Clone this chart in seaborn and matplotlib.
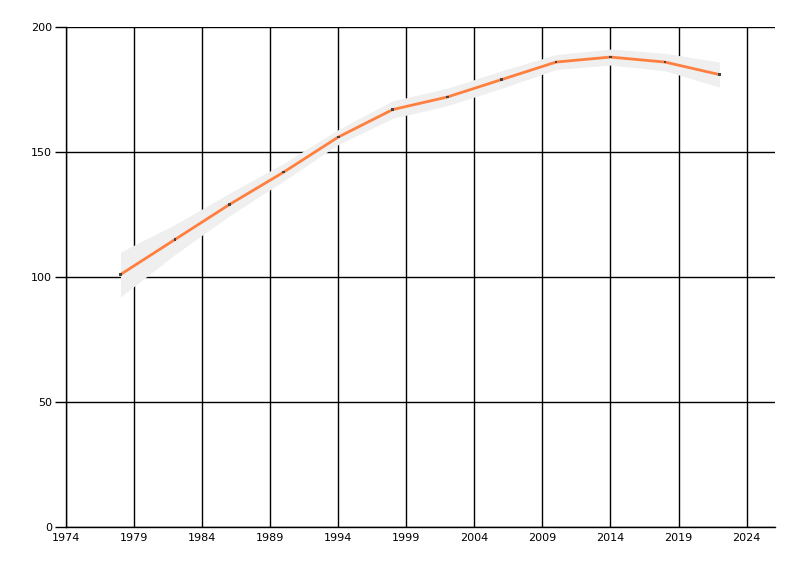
import seaborn as sns
import matplotlib.pyplot as plt
import numpy as np

# data
years = [1978, 1982, 1986, 1990, 1994, 1998, 2002, 2006, 2010, 2014, 2018, 2022]
values = [101, 115, 129, 142, 156, 167, 172, 179, 186, 188, 186, 181]
upper = [110, 121, 133.5, 145.5, 159, 170.5, 175.5, 182.5, 189, 191.2, 189.5, 186]
lower = [92, 109, 124.5, 138.5, 153, 163.5, 168.5, 175.5, 183, 184.8, 182.5, 176]
x_ticks = [1974, 1979, 1984, 1989, 1994, 1999, 2004, 2009, 2014, 2019, 2024]
y_ticks = [0, 50, 100, 150, 200]

sns.set_style('white')
plt.rcParams['font.family'] = ['DejaVu Sans']

fig = plt.figure(figsize=(8, 5.76), dpi=100)
ax = fig.add_axes([0.0825, 0.085, 0.8865, 0.868])

# grid first, band on top of it
for xt in x_ticks:
    ax.axvline(xt, color='black', lw=1, zorder=0)
for yt in y_ticks:
    ax.axhline(yt, color='black', lw=1, zorder=0)

ax.fill_between(years, lower, upper, color='#efefef', lw=0, zorder=2)
sns.lineplot(x=years, y=values, color='#ff7f3f', lw=2, ax=ax, zorder=3)
sns.scatterplot(x=years, y=values, color='#444444', s=4, marker='s', edgecolor='none', ax=ax, zorder=4)

ax.set_xlim(1974, 2026.1)
ax.set_ylim(0, 200)
ax.set_xticks(x_ticks)
ax.set_yticks(y_ticks)
ax.tick_params(axis='x', length=0, pad=4, labelsize=8, labelcolor='black')
ax.tick_params(axis='y', length=8, width=1, color='black', pad=2, labelsize=8, labelcolor='black')
ax.tick_params(left=True)
for s in ['top', 'right']:
    ax.spines[s].set_visible(False)
for s in ['left', 'bottom']:
    ax.spines[s].set_color('black')
    ax.spines[s].set_linewidth(1)
ax.set_xlabel('')
ax.set_ylabel('')

fig.savefig('out.png', dpi=100)
